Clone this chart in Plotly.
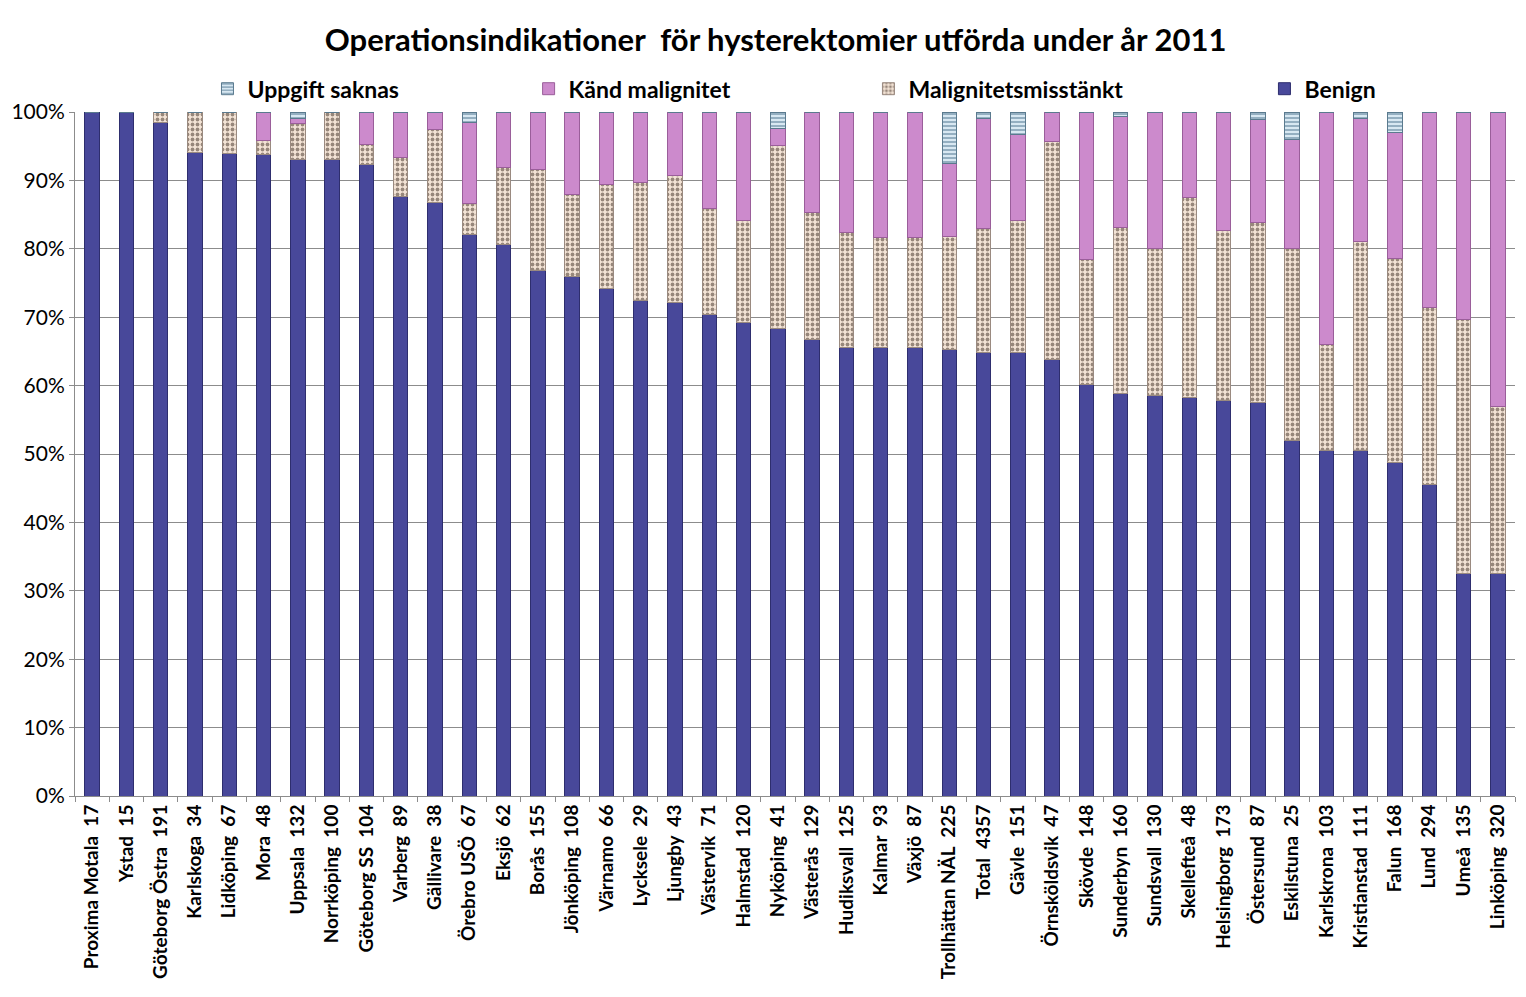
import plotly.graph_objects as go

categories = [
    "Proxima Motala  17", "Ystad  15", "Göteborg Östra  191", "Karlskoga  34", "Lidköping  67",
    "Mora  48", "Uppsala  132", "Norrköping  100", "Göteborg SS  104", "Varberg  89",
    "Gällivare  38", "Örebro USÖ  67", "Eksjö  62", "Borås  155", "Jönköping  108",
    "Värnamo  66", "Lycksele  29", "Ljungby  43", "Västervik  71", "Halmstad  120",
    "Nyköping  41", "Västerås  129", "Hudiksvall  125", "Kalmar  93", "Växjö  87",
    "Trollhättan NÄL  225", "Total  4357", "Gävle  151", "Örnsköldsvik  47", "Skövde  148",
    "Sunderbyn  160", "Sundsvall  130", "Skellefteå  48", "Helsingborg  173", "Östersund  87",
    "Eskilstuna  25", "Karlskrona  103", "Kristianstad  111", "Falun  168", "Lund  294",
    "Umeå  135", "Linköping  320",
]

benign = [100.0, 100.0, 98.4, 94.1, 94.0, 93.8, 93.0, 93.0, 92.3, 87.6,
          86.8, 82.1, 80.6, 76.8, 75.9, 74.2, 72.4, 72.1, 70.4, 69.2,
          68.3, 66.7, 65.6, 65.6, 65.5, 65.3, 64.9, 64.9, 63.8, 60.1,
          58.8, 58.5, 58.3, 57.8, 57.5, 52.0, 50.5, 50.5, 48.8, 45.6,
          32.6, 32.5]
misstankt = [0.0, 0.0, 1.6, 5.9, 6.0, 2.0, 5.3, 7.0, 2.9, 5.7,
             10.6, 4.5, 11.3, 14.8, 12.1, 15.2, 17.3, 18.6, 15.5, 15.0,
             26.8, 18.6, 16.8, 16.1, 16.1, 16.5, 18.1, 19.2, 31.9, 18.3,
             24.3, 21.5, 29.2, 24.9, 26.4, 28.0, 15.5, 30.6, 29.8, 25.8,
             37.0, 24.4]
kand = [0.0, 0.0, 0.0, 0.0, 0.0, 4.2, 0.8, 0.0, 4.8, 6.7,
        2.6, 11.9, 8.1, 8.4, 12.0, 10.6, 10.3, 9.3, 14.1, 15.8,
        2.5, 14.7, 17.6, 18.3, 18.4, 10.6, 16.0, 12.6, 4.3, 21.6,
        16.3, 20.0, 12.5, 17.3, 15.0, 16.0, 34.0, 17.9, 18.4, 28.6,
        30.4, 43.1]
uppgift = [0.0, 0.0, 0.0, 0.0, 0.0, 0.0, 0.9, 0.0, 0.0, 0.0,
           0.0, 1.5, 0.0, 0.0, 0.0, 0.0, 0.0, 0.0, 0.0, 0.0,
           2.4, 0.0, 0.0, 0.0, 0.0, 7.6, 1.0, 3.3, 0.0, 0.0,
           0.6, 0.0, 0.0, 0.0, 1.1, 4.0, 0.0, 0.9, 3.0, 0.0,
           0.0, 0.0]

series = [
    ("Benign", benign, "legend4", dict(color="#48489A", line=dict(color="#2E2E6E", width=1))),
    ("Malignitetsmisstänkt", misstankt, "legend3", dict(
        color="#F4E4D6", line=dict(color="#9A8A80", width=1),
        pattern=dict(shape=".", fgcolor="#3A2A20", bgcolor="#F4E4D6", size=5, solidity=0.45))),
    ("Känd malignitet", kand, "legend2", dict(color="#CC8ACC", line=dict(color="#9A5E9A", width=1))),
    ("Uppgift saknas", uppgift, "legend", dict(
        color="#B8D4E4", line=dict(color="#5A7A8E", width=1),
        pattern=dict(shape="-", fgcolor="#3F6A86", bgcolor="#D8E8F2", size=4, solidity=0.45))),
]

fig = go.Figure()
for name, vals, leg, marker in series:
    fig.add_trace(go.Bar(x=categories, y=vals, name=name, marker=marker, width=0.42,
                         legend=leg, showlegend=True))

font_family = "Lato, 'Open Sans', sans-serif"
legend_font = dict(size=23, family=font_family, weight="bold", color="black")
leg_common = dict(y=1.034, yanchor="middle", xanchor="left", font=legend_font,
                  bgcolor="rgba(0,0,0,0)", itemwidth=30, visible=True)

fig.update_layout(
    barmode="stack",
    showlegend=True,
    width=1526, height=997,
    paper_bgcolor="white", plot_bgcolor="white",
    margin=dict(l=67, r=19, t=104, b=209, autoexpand=False),
    font=dict(family=font_family, color="black"),
    title=dict(text="<b>Operationsindikationer  för hysterektomier utförda under år 2011</b>",
               x=0.503, xanchor="center", y=0.968, yanchor="middle",
               font=dict(size=31, family=font_family, color="black")),
    legend=dict(x=0.092, **leg_common),
    legend2=dict(x=0.315, **leg_common),
    legend3=dict(x=0.551, **leg_common),
    legend4=dict(x=0.826, **leg_common),
    bargap=0.58,
)
fig.update_yaxes(range=[0, 100], dtick=10, ticksuffix="%", showgrid=True, gridcolor="#8C8C8C",
                 gridwidth=1, showline=True, linecolor="#8C8C8C", ticks="outside",
                 ticklen=5, tickcolor="#8C8C8C", tickfont=dict(size=21, family=font_family))
fig.update_xaxes(tickangle=-90, showline=True, linecolor="#8C8C8C", ticks="outside",
                 tickson="boundaries", ticklen=5, tickcolor="#8C8C8C",
                 tickfont=dict(size=19, family=font_family, color="black", weight="bold"))

fig.write_html("out.html")
